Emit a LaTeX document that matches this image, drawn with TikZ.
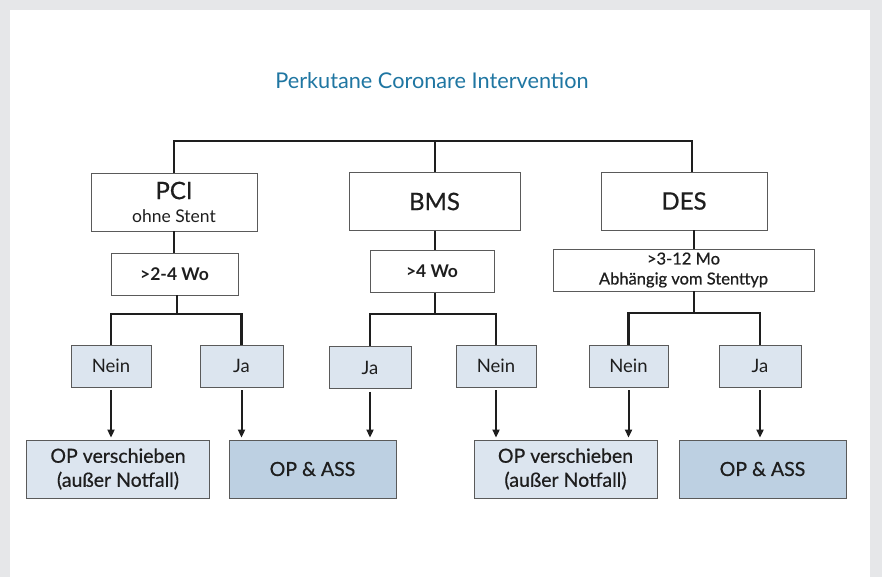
\documentclass[tikz,border=0pt]{standalone}
\usepackage{fontspec}
\setmainfont{Lato}
\newfontfamily\medfont[FakeBold=0.6]{Lato}
\usetikzlibrary{arrows.meta}
\definecolor{pagegray}{HTML}{E6E7E9}
\definecolor{titleblue}{HTML}{1F76A2}
\definecolor{lightbox}{HTML}{DCE5EF}
\definecolor{darkbox}{HTML}{BDD0E2}
\definecolor{rimgray}{HTML}{5A5A5A}
\definecolor{ink}{HTML}{1E1E1E}

\begin{document}
\begin{tikzpicture}[x=1pt,y=-1pt]
\tikzstyle{mythick}=[line width=2.7pt]
\tikzstyle{bx}=[draw=rimgray,line width=0.9pt,fill=white,text=ink,align=center,inner sep=0pt]
\tikzstyle{lb}=[bx,fill=lightbox,minimum height=42pt,font=\fontsize{18.5}{20}\selectfont]
\tikzstyle{db}=[bx,fill=darkbox]
\tikzstyle{big}=[bx,minimum height=58pt,font=\medfont\fontsize{24}{24}\selectfont]
\tikzstyle{wo}=[bx,minimum height=42pt,font=\fontsize{17.5}{20}\selectfont\bfseries]
\tikzstyle{res}=[minimum height=58pt,minimum width=183pt,font=\medfont\fontsize{19.5}{24}\selectfont]
\tikzstyle{ed}=[draw=ink,mythick]
\tikzstyle{ar}=[draw=ink,line width=2pt,-{Triangle[length=8pt,width=7pt]},shorten <=3pt,shorten >=2pt]
\fill[pagegray] (0,0) rectangle (882,577);
\fill[white] (10,10) rectangle (870,577);
\useasboundingbox (0,0) rectangle (882,577);
\node [text=titleblue,font=\fontsize{21.7}{24}\selectfont] (title) at (432,81) {Perkutane Coronare Intervention};
% first row
\node [big,minimum width=166pt,font=\fontsize{17.5}{23}\selectfont] (pci) at (174,202) {{\medfont\fontsize{24}{24}\selectfont PCI}\\ohne Stent};
\node [big,minimum width=171pt] (bms) at (434.5,201.5) {BMS};
\node [big,minimum width=166pt] (des) at (684,201) {DES};
% time spans
\node [wo,minimum width=127pt] (pciwo) at (174.5,274) {>2-4 Wo};
\node [wo,minimum width=124pt] (bmswo) at (432,271.5) {>4 Wo};
\node [wo,minimum width=261pt,font=\medfont\fontsize{16.5}{20}\selectfont] (desmo) at (683.5,270) {>3-12 Mo\\Abhängig vom Stenttyp};
% answers
\node [lb,minimum width=80pt] (nein1) at (111,366) {Nein};
\node [lb,minimum width=83pt] (ja1) at (241.5,366) {Ja};
\node [lb,minimum width=82pt] (ja2) at (370,367.5) {Ja};
\node [lb,minimum width=80pt] (nein2) at (496,366) {Nein};
\node [lb,minimum width=79pt] (nein3) at (628.5,366) {Nein};
\node [lb,minimum width=82pt] (ja3) at (760,366) {Ja};
% results
\node [lb,res] (op1) at (118,469) {OP verschieben\\(außer Notfall)};
\node [db,res,minimum width=167pt] (ass1) at (312.5,469) {OP \& ASS};
\node [lb,res] (op2) at (565.5,469) {OP verschieben\\(außer Notfall)};
\node [db,res,minimum width=167pt] (ass2) at (762.5,469) {OP \& ASS};
% tree
\coordinate (top) at (435,141);
\coordinate (pcisplit) at (177,314);
\coordinate (bmssplit) at (435,314);
\coordinate (dessplit) at (694,313);
\draw [ed] (pci.north) |- (top) -| ([xshift=8pt]des.north);
\draw [ed] (top) -- (bms.north -| top);
\draw [ed] (pci.south) -- (pciwo.north -| pci.south);
\draw [ed] (bms.south -| top) -- (bmswo.north -| top);
\draw [ed] (des.south -| dessplit) -- (desmo.north -| dessplit);
\draw [ed] (pciwo.south -| pcisplit) -- (pcisplit);
\draw [ed] (bmswo.south -| bmssplit) -- (bmssplit);
\draw [ed] (desmo.south -| dessplit) -- (dessplit);
\draw [ed] (nein1.north) |- (pcisplit) -| (ja1.north);
\draw [ed] (ja2.north) |- (bmssplit) -| (nein2.north);
\draw [ed] (nein3.north) |- (dessplit) -| (ja3.north);
% arrows
\draw [ar] (nein1.south) -- (nein1.south |- op1.north);
\draw [ar] (ja1.south) -- (ja1.south |- ass1.north);
\draw [ar] (ja2.south) -- (ja2.south |- ass1.north);
\draw [ar] (nein2.south) -- (nein2.south |- op2.north);
\draw [ar] (nein3.south) -- (nein3.south |- op2.north);
\draw [ar] (ja3.south) -- (ja3.south |- ass2.north);
\end{tikzpicture}
\end{document}
